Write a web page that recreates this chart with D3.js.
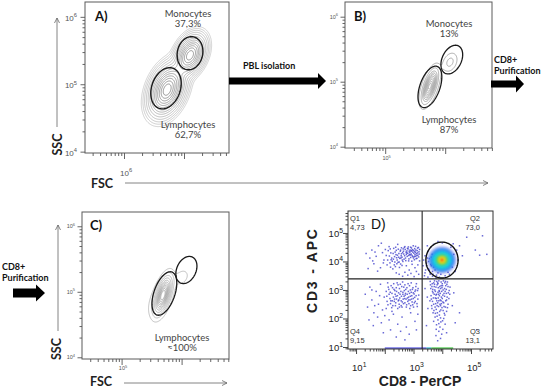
<!DOCTYPE html>
<html><head><meta charset="utf-8">
<script src="https://cdn.jsdelivr.net/npm/d3@7/dist/d3.min.js"></script>
<style>body{margin:0;background:#fff}svg{display:block}</style>
</head><body>
<svg id="c" width="544" height="388"></svg>
<script>
// ================= DATA (all positions of cells/populations in log10 units) =================
// Panel A – whole blood, FSC vs SSC; populations summarised as gaussian clouds
const aPopX = [6.72, 7.10], aPopY = [4.92, 5.43], aPopSX = [0.13, 0.11], aPopSY = [0.165, 0.13];
const aPopRho = [0.35, 0.35], aPopPeak = [1, 0.85];
const aLevels = [0.004, 0.008, 0.015, 0.028, 0.05, 0.085, 0.13, 0.19, 0.27, 0.36, 0.47, 0.6, 0.74, 0.88];
const aGateX = [6.70, 7.10], aGateY = [4.94, 5.46], aGateRX = [0.235, 0.21], aGateRY = [0.32, 0.25], aGateTilt = [-26, -20];
const aGateNames = ["Lymphocytes", "Monocytes"], aGatePct = ["62,7%", "37,3%"];

// Panel B – after PBL isolation
const bPopX = [5.745, 6.08], bPopY = [4.93, 5.30], bPopSX = [0.075, 0.07], bPopSY = [0.145, 0.083];
const bPopRho = [0.6, 0.3], bPopPeak = [1, 0.2];
const bLevels = [0.05, 0.15, 0.27, 0.37, 0.47, 0.57, 0.67, 0.77, 0.87, 0.95];
const bGateX = [5.745, 6.11], bGateY = [4.92, 5.34], bGateRX = [0.165, 0.158], bGateRY = [0.338, 0.238], bGateTilt = [-22, -30];
const bGateNames = ["Lymphocytes", "Monocytes"], bGatePct = ["87%", "13%"];

// Panel C – after CD8+ purification
const cPopX = [5.69, 6.0, 5.58], cPopY = [4.95, 5.22, 4.86], cPopSX = [0.075, 0.08, 0.11], cPopSY = [0.145, 0.08, 0.16];
const cPopRho = [0.55, 0.3, 0.5], cPopPeak = [1, 0.04, 0.03];
const cLevels = [0.02, 0.06, 0.12, 0.2, 0.3, 0.4, 0.5, 0.6, 0.7, 0.8, 0.9];
const cGateX = [5.713, 6.08], cGateY = [4.974, 5.333], cGateRX = [0.172, 0.158], cGateRY = [0.351, 0.221], cGateTilt = [-22, -30];
const cGateNames = ["Lymphocytes"], cGatePct = ["\u2248100%"];

// Panel D – CD8 (PerCP) vs CD3 (APC) dot plot
const quadX = 3.30, quadY = 3.39;
const quadNames = ["Q1", "Q2", "Q3", "Q4"], quadValues = ["4,73", "73,0", "13,1", "9,15"];
const dGate = [3.99, 4.05, 0.56, 0.63];
const q1Cells = [[2.62,4.31],[2.71,4.42],[2.78,4.18],[2.85,4.36],[2.93,4.47],[3.01,4.29],[3.08,4.40],[3.15,4.22],[2.67,4.08],[2.75,4.25],[2.82,4.51],[2.90,4.14],[2.97,4.33],[3.04,4.45],[3.12,4.11],[3.19,4.34],[2.64,4.44],[2.73,4.03],[2.80,4.29],[2.88,4.40],[2.95,4.21],[3.03,4.06],[3.10,4.27],[3.17,4.49],[2.69,4.20],[2.77,4.37],[2.84,4.09],[2.92,4.26],[2.99,4.55],[3.06,4.18],[3.13,4.38],[3.21,4.02],[2.60,4.15],[2.70,4.52],[2.87,4.31],[2.94,4.01],[3.00,4.39],[3.07,4.32],[3.14,4.47],[2.81,4.44],[2.89,4.23],[2.96,4.41],[3.02,4.17],[3.09,4.10],[2.74,4.33],[2.66,4.26],[3.18,4.16],[2.91,4.36],[2.83,4.21],[3.05,4.24],
[2.05,4.21],[2.12,4.38],[2.18,3.95],[2.24,4.12],[2.31,4.46],[2.37,3.82],[2.43,4.05],[2.49,4.28],[2.55,3.91],[2.08,3.88],[2.15,4.52],[2.21,4.30],[2.28,3.74],[2.34,4.17],[2.40,4.39],[2.46,3.97],[2.52,4.11],[2.58,4.48],[2.10,4.05],[2.26,4.01],[2.33,3.88],[2.39,4.24],[2.45,4.60],[2.51,3.79],[2.57,4.20],[2.20,3.80],[2.36,4.33],[2.48,4.15],[2.54,4.36],[2.30,4.08],[2.42,3.92],[2.16,4.19],[2.02,4.42],[2.60,3.86],[2.63,4.00],
[1.35,4.28],[1.48,4.12],[1.55,4.40],[1.62,3.92],[1.70,4.18],[1.78,4.55],[1.85,3.78],[1.92,4.31],[1.97,4.05],[1.66,4.33],[1.88,4.64],[1.75,3.66],[1.58,4.02],[1.95,3.95],[1.42,3.75],
[2.50,3.55],[2.62,3.48],[2.70,3.62],[2.80,3.52],[2.91,3.58],[3.02,3.47],[3.10,3.65],[2.85,3.70],[3.18,3.55],[2.40,3.60],[3.05,3.78],[2.75,3.85],[2.95,3.90],[3.15,3.88],
[2.58,4.27],[2.65,4.36],[2.72,4.12],[2.79,4.46],[2.86,4.24],[2.93,4.38],[3.00,4.12],[3.07,4.53],[3.14,4.30],[3.21,4.42],[2.61,4.05],[2.68,4.49],[2.76,4.30],[2.83,4.02],[2.90,4.50],[2.97,4.17],[3.04,4.35],[3.11,4.20],[3.20,4.26],[2.55,4.40],[2.44,4.22],[2.38,4.50],[2.29,4.28],[2.22,4.06],[2.50,3.98],[2.47,4.43],[2.35,3.98],[2.19,4.44],[2.56,4.12],[2.41,4.13]];
const q2Cells = [[3.40,4.20],[3.45,3.95],[3.50,4.35],[3.52,3.75],[3.55,4.10],[3.58,3.60],[3.60,4.50],[3.62,3.85],[3.65,4.25],[3.68,3.55],[3.70,4.60],[3.42,3.70],[3.48,4.55],[3.38,3.50],[4.30,4.50],[4.35,3.80],[4.40,4.25],[4.45,3.65],[4.50,4.40],[4.38,4.62],[4.55,4.05],[4.25,3.55],[4.10,3.50],[3.90,3.45],[3.80,3.52],[4.00,4.65],[3.85,4.70],[4.60,4.55],[4.70,4.20],[5.15,4.40],[5.30,4.22],[5.55,4.25],[4.85,4.85],[5.40,4.90],[3.35,4.05],[3.33,3.85],
[3.45,3.85],[3.52,4.00],[3.55,3.70],[3.60,3.90],[3.62,4.15],[3.66,3.65],[3.70,3.80],[3.72,4.05],[3.58,3.55],[3.50,3.45],[3.66,3.48],[3.78,3.42],[3.85,3.60],[3.48,4.12],[3.40,3.60],[3.75,3.70],[3.95,3.55],[4.20,3.62]];
const q3Cells = [[3.58,3.30],[3.64,3.12],[3.70,3.25],[3.76,2.95],[3.82,3.18],[3.88,3.32],[3.94,3.05],[4.00,3.22],[4.06,2.88],[4.12,3.15],[4.18,3.28],[4.24,2.98],[3.61,2.80],[3.67,3.02],[3.73,3.20],[3.79,2.70],[3.85,2.92],[3.91,3.12],[3.97,2.75],[4.03,3.00],[4.09,3.25],[4.15,2.65],[4.21,2.90],[4.27,3.10],[3.60,3.05],[3.66,2.60],[3.72,2.85],[3.78,3.10],[3.84,2.55],[3.90,2.80],[3.96,3.28],[4.02,2.58],[4.08,2.78],[4.14,3.02],[4.20,2.50],[3.63,2.45],[3.69,2.72],[3.75,2.40],[3.81,2.62],[3.87,2.42],[3.93,2.65],[3.99,2.38],[4.05,2.55],[4.11,2.40],[4.17,2.75],[3.71,2.28],[3.83,2.20],[3.95,2.30],[4.07,2.18],[3.77,2.52],[3.89,2.98],[4.01,3.15],[3.65,3.22],[3.81,3.30],[3.93,2.88],[4.10,2.95],[3.74,3.00],[3.86,3.08],[3.98,2.95],[4.04,3.32],[3.80,2.85],[3.92,2.50],[3.68,2.90],[4.16,3.20],[3.57,2.62],[4.23,2.70],[3.86,2.72],[3.96,2.62],[3.76,2.18],[3.90,2.12],
[3.75,2.05],[3.85,1.95],[3.95,1.88],[4.05,2.00],[3.80,1.78],[3.92,1.70],[4.02,1.62],[3.88,1.55],[3.98,1.45],[3.78,1.40],[4.10,1.80],[3.70,1.90],[4.15,1.50],[3.94,1.30],[3.84,1.22],[4.35,2.45],[4.40,2.90],[4.45,1.85],[3.50,2.35],[3.45,1.75],[4.60,2.20],[5.20,1.60],[3.40,3.05],[3.48,2.75],
[3.59,3.18],[3.66,2.95],[3.72,3.12],[3.78,2.82],[3.84,3.25],[3.90,2.95],[3.96,3.15],[4.02,2.82],[4.08,3.05],[4.14,2.88],[4.20,3.12],[4.26,2.85],[3.62,2.68],[3.70,2.50],[3.76,2.72],[3.82,2.45],[3.88,2.62],[3.94,2.45],[4.00,2.70],[4.06,2.42],[4.12,2.62],[4.18,2.38],[3.64,2.35],[3.79,2.32],[3.91,2.25],[4.03,2.28],[4.15,2.25],[3.73,3.32],[3.87,2.85],[3.99,3.08],[4.11,3.30],[3.85,3.22],[3.97,2.52],[3.68,2.20],[4.09,2.12],[3.82,2.08],[3.94,2.02],[4.01,1.92],[3.88,1.82],[3.79,1.62]];
const q4Cells = [[2.05,2.95],[2.12,3.10],[2.18,2.70],[2.25,2.88],[2.31,3.22],[2.38,2.55],[2.44,2.80],[2.51,3.05],[2.57,2.62],[2.63,2.92],[2.70,3.18],[2.76,2.48],[2.83,2.75],[2.89,3.00],[2.95,2.58],[3.02,2.86],[3.08,3.12],[3.15,2.68],[2.08,2.60],[2.15,2.85],[2.22,3.15],[2.28,2.45],[2.35,2.98],[2.41,2.68],[2.48,2.90],[2.54,3.20],[2.60,2.40],[2.67,2.78],[2.73,3.02],[2.80,2.60],[2.86,2.88],[2.92,3.25],[2.99,2.70],[3.05,2.95],[3.12,2.52],[3.18,2.82],[2.10,3.25],[2.20,2.52],[2.30,2.75],[2.40,3.08],[2.50,2.50],[2.58,2.78],[2.66,3.10],[2.74,2.68],[2.82,2.95],[2.90,2.45],[2.98,3.08],[3.06,2.60],[3.14,2.98],[2.45,2.35],[2.62,3.28],[2.78,2.85],[2.94,2.80],[2.36,2.85],[2.56,2.95],[2.70,2.55],[2.86,3.15],[3.00,2.40],[3.10,3.22],[2.26,2.62],[2.46,3.18],[2.64,2.68],[2.84,2.52],[3.04,2.74],[2.52,2.72],[2.72,2.88],[2.92,2.92],[2.32,3.02],[2.68,2.98],[2.88,2.65],
[1.32,2.85],[1.40,2.40],[1.48,3.10],[1.55,2.65],[1.62,2.20],[1.70,2.95],[1.78,2.50],[1.85,3.20],[1.92,2.30],[1.98,2.75],[1.45,1.95],[1.60,1.75],[1.75,2.05],[1.88,1.85],[2.00,2.10],[2.15,1.95],[2.30,2.15],[2.45,1.80],[2.60,2.05],[2.75,1.70],[2.90,2.20],[3.05,1.90],[3.15,2.15],[2.20,1.60],[2.55,1.55],[2.85,1.45],[3.10,1.60],[2.40,1.35],[2.70,1.25],[1.95,1.50],[1.65,2.45],[1.82,2.80],[2.05,2.35],[2.25,2.25],[1.55,3.00],
[2.07,2.78],[2.14,3.02],[2.21,2.62],[2.27,3.08],[2.34,2.68],[2.41,2.95],[2.47,2.62],[2.53,2.85],[2.59,3.12],[2.65,2.52],[2.71,2.82],[2.77,3.08],[2.83,2.65],[2.89,2.78],[2.96,3.02],[3.03,2.55],[3.09,2.80],[3.16,3.05],[2.11,2.48],[2.24,2.38],[2.37,2.45],[2.49,2.65],[2.61,2.58],[2.75,2.40],[2.87,2.35],[2.99,2.90],[3.13,2.42],[2.19,2.92],[2.43,3.25],[2.57,2.45],[2.69,2.70],[2.81,3.22],[2.93,2.68],[3.07,3.00],[2.33,2.60],[2.63,2.85],[2.79,2.72],[2.97,2.48],[2.51,2.40],[2.39,2.78]];
// dense CD3+CD8+ population, density rings (outer -> core)
const blobCenter = [3.99, 4.05];
const blobColors = ["#3040e0", "#1e8ef2", "#12d0dc", "#50d040", "#e8e020", "#ff8a10", "#e01818"];
const blobRX = [0.50, 0.43, 0.33, 0.22, 0.13, 0.075, 0.04];
const blobRY = [0.48, 0.41, 0.31, 0.20, 0.12, 0.07, 0.035];
// events piled on the lower axis
const pileFrom = [2.0, 3.45, 3.62], pileTo = [3.45, 3.62, 4.38], pileColor = ["#4a4ae0", "#20b0d0", "#3cc43c"];

// ================= DRAWING =================
const svg = d3.select("#c");
const FL = "Lato, 'Open Sans', sans-serif";
const FA = "'Liberation Sans', Arial, sans-serif";
const defs = svg.append("defs");
defs.append("filter").attr("id", "soft").append("feGaussianBlur").attr("stdDeviation", 0.9);

function pops(X, Y, SX, SY, R, P) { return X.map((v, i) => ({x: v, y: Y[i], sx: SX[i], sy: SY[i], rho: R[i], peak: P[i]})); }
function ellipsePts(cx, cy, rx, ry, tilt) {
  const t = tilt * Math.PI / 180, pts = [];
  for (let k = 0; k < 96; k++) {
    const f = 2 * Math.PI * k / 96, ex = rx * Math.cos(f), ey = ry * Math.sin(f);
    pts.push([cx + ex * Math.cos(t) - ey * Math.sin(t), cy + ex * Math.sin(t) + ey * Math.cos(t)]);
  }
  return pts;
}
function supLabel(g, x, y, exp, size, anchor, color) {
  const t = g.append("text").attr("x", x).attr("y", y).attr("font-family", FA).attr("font-size", size)
    .attr("fill", color).attr("text-anchor", anchor);
  t.append("tspan").text("10");
  t.append("tspan").attr("dy", -size * 0.45).attr("font-size", size * 0.72).text(exp);
}
function logAxis(g, scale, orient, pos, minor, major, color, sw) {
  const gen = (orient === "left" ? d3.axisLeft : d3.axisBottom)(scale).tickValues(scale.ticks()).tickSize(minor).tickSizeOuter(0).tickFormat("");
  const ag = g.append("g").attr("transform", orient === "left" ? `translate(${pos},0)` : `translate(0,${pos})`).call(gen);
  ag.select(".domain").remove();
  ag.selectAll(".tick line").attr("stroke", color).attr("stroke-width", sw)
    .filter(d => Math.abs(Math.log10(d) - Math.round(Math.log10(d))) < 1e-6)
    .attr(orient === "left" ? "x2" : "y2", orient === "left" ? -major : major);
}

function contourPanel(o) {
  const x = d3.scaleLog().domain([10 ** o.xDom[0], 10 ** o.xDom[1]]).range([o.l, o.r]);
  const y = d3.scaleLog().domain([10 ** o.yDom[0], 10 ** o.yDom[1]]).range([o.b, o.t]);
  const g = svg.append("g");
  const cid = "clip" + o.id;
  defs.append("clipPath").attr("id", cid).append("rect").attr("x", o.l).attr("y", o.t).attr("width", o.r - o.l).attr("height", o.b - o.t);
  const n = 240, m = 240, vals = new Array(n * m);
  for (let j = 0; j < m; j++) for (let i = 0; i < n; i++) {
    const lx = o.xDom[0] + (i + 0.5) / n * (o.xDom[1] - o.xDom[0]);
    const ly = o.yDom[0] + (j + 0.5) / m * (o.yDom[1] - o.yDom[0]);
    let v = 0;
    o.pops.forEach(p => {
      const dx = (lx - p.x) / p.sx, dy = (ly - p.y) / p.sy;
      v += p.peak * Math.exp(-0.5 * (dx * dx - 2 * p.rho * dx * dy + dy * dy) / (1 - p.rho * p.rho));
    });
    vals[i + j * n] = v;
  }
  const cs = d3.contours().size([n, m]).thresholds(o.levels)(vals);
  const proj = d3.geoTransform({point(px, py) {
    this.stream.point(x(10 ** (o.xDom[0] + px / n * (o.xDom[1] - o.xDom[0]))), y(10 ** (o.yDom[0] + py / m * (o.yDom[1] - o.yDom[0]))));
  }});
  const col = d3.scaleLinear().domain([0, o.levels.length - 1]).range(o.cRange);
  const cg = g.append("g").attr("clip-path", `url(#${cid})`);
  cg.selectAll("path.ct").data(cs).join("path").attr("class", "ct").attr("d", d3.geoPath(proj))
    .attr("fill", "none").attr("stroke", (d, i) => col(i)).attr("stroke-width", o.csw);
  const line = d3.line().x(d => x(10 ** d[0])).y(d => y(10 ** d[1])).curve(d3.curveLinearClosed);
  o.gates.forEach(gt => {
    cg.append("path").attr("d", line(ellipsePts(gt[0], gt[1], gt[2], gt[3], gt[4])))
      .attr("fill", "none").attr("stroke", "#1a1a1a").attr("stroke-width", o.gsw);
  });
  g.append("rect").attr("x", o.l).attr("y", o.t).attr("width", o.r - o.l).attr("height", o.b - o.t)
    .attr("fill", "none").attr("stroke", "#5a5a5a").attr("stroke-width", 1);
  logAxis(g, y, "left", o.l, 2.5, 4.5, "#555", 0.9);
  logAxis(g, x, "bottom", o.b, 3, 6, "#555", 0.9);
  o.yLab.forEach(e => supLabel(g, o.l - o.yLabDx, y(10 ** e) + o.yLabDy, e, o.tickFs, "end", "#555"));
  o.xLab.forEach(e => supLabel(g, x(10 ** e) - o.tickFs * 0.5, o.b + o.xLabDy, e, o.tickFs, "start", "#555"));
  g.append("text").attr("x", o.lx).attr("y", o.ly).attr("font-family", FL).attr("font-weight", "bold")
    .attr("font-size", 13).attr("fill", "#111").text(o.letter);
  o.texts.forEach(t => g.append("text").attr("x", t[0]).attr("y", t[1]).attr("text-anchor", "middle")
    .attr("font-family", FL).attr("font-size", 9.5).attr("fill", "#444").text(t[2]));
  return {x, y};
}

contourPanel({id: "A", l: 85, r: 229, t: 2, b: 153, xDom: [5.35, 7.75], yDom: [3.98, 6.22],
  pops: pops(aPopX, aPopY, aPopSX, aPopSY, aPopRho, aPopPeak), levels: aLevels, cRange: ["#bdbdbd", "#6a6a6a"], csw: 0.7,
  gates: aGateX.map((v, i) => [v, aGateY[i], aGateRX[i], aGateRY[i], aGateTilt[i]]), gsw: 1.4,
  yLab: [4, 5, 6], xLab: [6], tickFs: 8, yLabDx: 8, yLabDy: 4, xLabDy: 23, letter: "A)", lx: 95, ly: 21,
  texts: [[188, 17, aGateNames[1]], [188, 27, aGatePct[1]], [188, 128, aGateNames[0]], [188, 138, aGatePct[0]]]});

contourPanel({id: "B", l: 345, r: 492, t: 2, b: 148, xDom: [4.33, 6.78], yDom: [3.98, 6.226],
  pops: pops(bPopX, bPopY, bPopSX, bPopSY, bPopRho, bPopPeak), levels: bLevels, cRange: ["#8a8a8a", "#9a9a9a"], csw: 0.7,
  gates: bGateX.map((v, i) => [v, bGateY[i], bGateRX[i], bGateRY[i], bGateTilt[i]]), gsw: 1.3,
  yLab: [4, 5, 6], xLab: [5], tickFs: 5.5, yLabDx: 7, yLabDy: 2, xLabDy: 12, letter: "B)", lx: 354, ly: 21,
  texts: [[449, 27, bGateNames[1]], [449, 37, bGatePct[1]], [449, 123, bGateNames[0]], [449, 133, bGatePct[0]]]});

contourPanel({id: "C", l: 82, r: 229, t: 212, b: 359, xDom: [4.34, 6.79], yDom: [3.974, 6.218],
  pops: pops(cPopX, cPopY, cPopSX, cPopSY, cPopRho, cPopPeak), levels: cLevels, cRange: ["#a8a8a8", "#909090"], csw: 0.7,
  gates: cGateX.map((v, i) => [v, cGateY[i], cGateRX[i], cGateRY[i], cGateTilt[i]]), gsw: 1.3,
  yLab: [4, 5, 6], xLab: [5], tickFs: 5.5, yLabDx: 7, yLabDy: 2, xLabDy: 11, letter: "C)", lx: 90, ly: 230,
  texts: [[182, 341, cGateNames[0]], [182, 351, cGatePct[0]]]});

// ---- axis arrows & names (A, B, C) ----
const ag = svg.append("g").attr("stroke", "#666").attr("stroke-width", 0.8).attr("fill", "none");
ag.append("path").attr("d", "M57,127V18M54.5,23L57,18L59.5,23");
ag.append("path").attr("d", "M58,331V225M55.5,230L58,225L60.5,230");
ag.append("path").attr("d", "M125,183H488M483,180.5L488,183L483,185.5");
ag.append("path").attr("d", "M124,383H227M222,380.5L227,383L222,385.5");
[["SSC", 62, 144.5], ["SSC", 61, 349]].forEach(s => svg.append("text").attr("transform", `translate(${s[1]},${s[2]}) rotate(-90)`)
  .attr("text-anchor", "middle").attr("font-family", FL).attr("font-weight", "bold").attr("font-size", 12.5).attr("fill", "#222").text(s[0]));
[["FSC", 91, 188], ["FSC", 90, 386]].forEach(s => svg.append("text").attr("x", s[1]).attr("y", s[2])
  .attr("font-family", FL).attr("font-weight", "bold").attr("font-size", 12.5).attr("fill", "#222").text(s[0]));

// ---- process arrows ----
function fatArrow(x0, x1, xh, yc, hb, hh) {
  return `M${x0},${yc - hb}H${x1}V${yc - hh}L${xh},${yc}L${x1},${yc + hh}V${yc + hb}H${x0}Z`;
}
svg.append("path").attr("d", fatArrow(229, 318, 326, 81, 3.5, 8)).attr("fill", "#000");
svg.append("path").attr("d", fatArrow(491, 516, 524, 84, 3.5, 8.5)).attr("fill", "#000");
svg.append("path").attr("d", fatArrow(13, 36, 45, 293, 4.5, 8.5)).attr("fill", "#000");
const bt = (x, y, s) => svg.append("text").attr("x", x).attr("y", y).attr("font-family", FL).attr("font-weight", "bold")
  .attr("font-size", 9).attr("fill", "#111").text(s);
bt(243, 69, "PBL isolation"); bt(494, 63, "CD8+"); bt(494, 74, "Purification"); bt(2, 270, "CD8+"); bt(2, 281, "Purification");

// ================= PANEL D =================
(function () {
  const L = 348, R = 493, T = 211, B = 349;
  const x = d3.scaleLog().domain([10 ** 0.72, 10 ** 5.765]).range([L, R]);
  const y = d3.scaleLog().domain([10 ** 0.93, 10 ** 5.77]).range([B, T]);
  const g = svg.append("g");
  defs.append("clipPath").attr("id", "clipD").append("rect").attr("x", L).attr("y", T).attr("width", R - L).attr("height", B - T);
  const pg = g.append("g").attr("clip-path", "url(#clipD)");
  pileFrom.forEach((f, i) => pg.append("rect").attr("x", x(10 ** f)).attr("y", y(10 ** 0.99)).attr("width", x(10 ** pileTo[i]) - x(10 ** f))
    .attr("height", 2).attr("fill", pileColor[i]).attr("opacity", 0.8));
  // single events
  const all = q1Cells.concat(q2Cells, q3Cells, q4Cells);
  pg.selectAll("rect.ev").data(all).join("rect").attr("class", "ev")
    .attr("x", d => x(10 ** d[0]) - 0.75).attr("y", d => y(10 ** d[1]) - 0.75).attr("width", 1.5).attr("height", 1.5)
    .attr("fill", "#3636c8").attr("opacity", 0.75);
  // density blob
  const bg = pg.append("g").attr("filter", "url(#soft)");
  blobColors.forEach((c, i) => {
    const cx = x(10 ** blobCenter[0]), cy = y(10 ** blobCenter[1]);
    bg.append("ellipse").attr("cx", cx).attr("cy", cy)
      .attr("rx", x(10 ** (blobCenter[0] + blobRX[i])) - cx).attr("ry", cy - y(10 ** (blobCenter[1] + blobRY[i])))
      .attr("fill", c).attr("opacity", i === 0 ? 0.45 : (i === 1 ? 0.85 : 1));
  });
  g.append("line").attr("x1", x(10 ** quadX)).attr("x2", x(10 ** quadX)).attr("y1", T).attr("y2", B).attr("stroke", "#222").attr("stroke-width", 1.1);
  g.append("line").attr("x1", L).attr("x2", R).attr("y1", y(10 ** quadY)).attr("y2", y(10 ** quadY)).attr("stroke", "#222").attr("stroke-width", 1.1);
  const line = d3.line().x(d => x(10 ** d[0])).y(d => y(10 ** d[1])).curve(d3.curveLinearClosed);
  g.append("path").attr("d", line(ellipsePts(dGate[0], dGate[1], dGate[2], dGate[3], 0)))
    .attr("fill", "none").attr("stroke", "#111").attr("stroke-width", 1.4);
  g.append("rect").attr("x", L).attr("y", T).attr("width", R - L).attr("height", B - T).attr("fill", "none").attr("stroke", "#333").attr("stroke-width", 1);
  logAxis(g, y, "left", L, 2.5, 5, "#333", 0.9);
  logAxis(g, x, "bottom", B, 2.5, 5, "#333", 0.9);
  [1, 2, 3, 4, 5].forEach(e => supLabel(g, 343, y(10 ** e) + 4, e, 9.5, "end", "#222"));
  [1, 3, 5].forEach(e => supLabel(g, x(10 ** e) - 4, 371, e, 9.5, "start", "#222"));
  g.append("text").attr("transform", "translate(317,271) rotate(-90)").attr("text-anchor", "middle").attr("font-family", FA)
    .attr("font-weight", "bold").attr("font-size", 14).attr("fill", "#222").attr("textLength", 84).attr("lengthAdjust", "spacing").text("CD3 - APC");
  g.append("text").attr("x", 420).attr("y", 386).attr("text-anchor", "middle").attr("font-family", FA)
    .attr("font-weight", "bold").attr("font-size", 14).attr("fill", "#222").text("CD8 - PerCP");
  g.append("text").attr("x", 371).attr("y", 229).attr("font-family", FA).attr("font-size", 14).attr("fill", "#111").text("D)");
  const qt = (xx, yy, s, a) => g.append("text").attr("x", xx).attr("y", yy).attr("text-anchor", a).attr("font-family", FA)
    .attr("font-size", 7.5).attr("fill", "#333").text(s);
  qt(350, 221, quadNames[0], "start"); qt(350, 230, quadValues[0], "start");
  qt(480, 221, quadNames[1], "end"); qt(480, 230, quadValues[1], "end");
  qt(480, 334, quadNames[2], "end"); qt(480, 343, quadValues[2], "end");
  qt(350, 334, quadNames[3], "start"); qt(350, 343, quadValues[3], "start");
})();
</script>
</body></html>
